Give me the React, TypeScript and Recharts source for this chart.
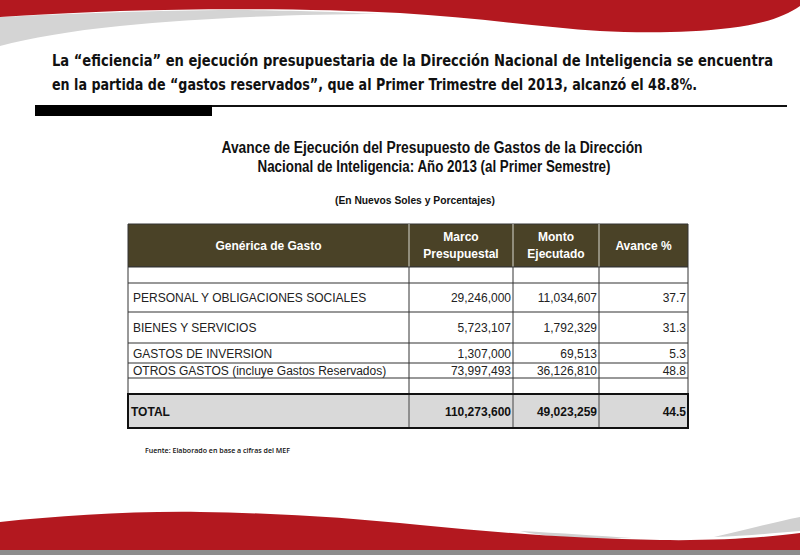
import { Surface, Rectangle, Text } from 'recharts';

const categorias = [
  'PERSONAL Y OBLIGACIONES SOCIALES',
  'BIENES Y SERVICIOS',
  'GASTOS DE INVERSION',
  'OTROS GASTOS (incluye Gastos Reservados)',
];
const marcoPresupuestal = [29246000, 5723107, 1307000, 73997493];
const montoEjecutado = [11034607, 1792329, 69513, 36126810];
const avancePct = [37.7, 31.3, 5.3, 48.8];
const totales = { marco: 110273600, ejecutado: 49023259, avance: 44.5 };

const encabezado = ['Genérica de Gasto', 'Marco|Presupuestal', 'Monto|Ejecutado', 'Avance %'];

// table layout (px)
const colX = [128, 409, 513, 599, 688];
const headTop = 224;
const headBottom = 267;
const rowEdges = [267, 283, 312, 343, 363, 378, 394];
const totalBottom = 428;

const RED = '#b3181f';
const HEAD_BG = '#4a4227';
const fmt = (v: number) => v.toLocaleString('en-US');

function Decoraciones() {
  return (
    <g>
      {/* top swoosh */}
      <path d="M0,17 C60,14 140,11 220,10 C290,10 340,12 380,14 C300,14 200,18 120,26 C70,31 30,38 0,46 Z" fill="#d4d4d4" />
      <path d="M0,0 L800,0 L800,6 C785,16 765,24 730,28 C690,33 640,33 600,31 C540,27 470,17 400,13 C320,9 220,8 120,11 C70,13 30,15 0,17 Z" fill={RED} />
      {/* bottom swoosh */}
      <path d="M520,531 C560,533 600,536 632,538 C590,539 550,538 520,531 Z" fill="#d0d0d0" />
      <path d="M714,537 C745,530 775,522 800,517 L800,531 C775,533 745,536 714,537 Z" fill="#d0d0d0" />
      <path d="M0,522 C60,516 130,511 200,512 C280,513 350,518 420,525 C500,533 580,539 660,540 C720,541 770,537 800,533 L800,550 L0,550 Z" fill={RED} />
      <rect x={0} y={550} width={800} height={5} fill="#8d8d8d" />
    </g>
  );
}

function Tabla() {
  const font = 'Arial, "Liberation Sans", sans-serif';
  return (
    <g fontFamily={font}>
      {/* header */}
      <Rectangle x={colX[0]} y={headTop} width={colX[4] - colX[0]} height={headBottom - headTop} fill={HEAD_BG} stroke="#333" />
      {colX.slice(1, 4).map((x) => (
        <line key={`hv${x}`} x1={x} x2={x} y1={headTop} y2={headBottom} stroke="#d8d8d0" strokeWidth={1} />
      ))}
      {encabezado.map((h, i) => {
        const cx = (colX[i] + colX[i + 1]) / 2;
        const lines = h.split('|');
        return lines.map((ln, j) => (
          <Text
            key={`h${i}${j}`}
            x={cx}
            y={lines.length === 1 ? 246 : 237 + j * 17}
            textAnchor="middle"
            verticalAnchor="middle"
            fontSize={12}
            fontWeight="bold"
            fill="#ffffff"
          >
            {ln}
          </Text>
        ));
      })}

      {/* body */}
      <Rectangle x={colX[0]} y={headBottom} width={colX[4] - colX[0]} height={rowEdges[6] - headBottom} fill="#ffffff" stroke="#333" />
      {rowEdges.slice(1, 6).map((y) => (
        <line key={`r${y}`} x1={colX[0]} x2={colX[4]} y1={y} y2={y} stroke="#333" strokeWidth={1.2} />
      ))}
      {colX.slice(1, 4).map((x) => (
        <line key={`bv${x}`} x1={x} x2={x} y1={headBottom} y2={rowEdges[6]} stroke="#333" strokeWidth={1} />
      ))}
      {categorias.map((c, i) => {
        const cy = (rowEdges[i + 1] + rowEdges[i + 2]) / 2 + 0.5;
        return (
          <g key={c}>
            <Text x={133} y={cy} verticalAnchor="middle" fontSize={12} fill="#222">
              {c}
            </Text>
            <Text x={colX[2] - 2} y={cy} textAnchor="end" verticalAnchor="middle" fontSize={12} fill="#222">
              {fmt(marcoPresupuestal[i])}
            </Text>
            <Text x={colX[3] - 2} y={cy} textAnchor="end" verticalAnchor="middle" fontSize={12} fill="#222">
              {fmt(montoEjecutado[i])}
            </Text>
            <Text x={colX[4] - 2} y={cy} textAnchor="end" verticalAnchor="middle" fontSize={12} fill="#222">
              {avancePct[i].toFixed(1)}
            </Text>
          </g>
        );
      })}

      {/* total */}
      <Rectangle x={colX[0]} y={rowEdges[6]} width={colX[4] - colX[0]} height={totalBottom - rowEdges[6]} fill="#d9d9d9" stroke="#111" strokeWidth={2} />
      {colX.slice(1, 4).map((x) => (
        <line key={`tv${x}`} x1={x} x2={x} y1={rowEdges[6] + 1} y2={totalBottom - 1} stroke="#444" strokeWidth={1} />
      ))}
      {(() => {
        const cy = (rowEdges[6] + totalBottom) / 2 + 0.5;
        return (
          <g>
            <Text x={131} y={cy} verticalAnchor="middle" fontSize={12} fontWeight="bold" fill="#111">
              TOTAL
            </Text>
            <Text x={colX[2] - 2} y={cy} textAnchor="end" verticalAnchor="middle" fontSize={12} fontWeight="bold" fill="#111">
              {fmt(totales.marco)}
            </Text>
            <Text x={colX[3] - 2} y={cy} textAnchor="end" verticalAnchor="middle" fontSize={12} fontWeight="bold" fill="#111">
              {fmt(totales.ejecutado)}
            </Text>
            <Text x={colX[4] - 2} y={cy} textAnchor="end" verticalAnchor="middle" fontSize={12} fontWeight="bold" fill="#111">
              {totales.avance.toFixed(1)}
            </Text>
          </g>
        );
      })()}
    </g>
  );
}

export default function App() {
  const heading = '"Liberation Sans Narrow", "DejaVu Sans", Roboto, sans-serif';
  const arial = 'Arial, "Liberation Sans", sans-serif';
  return (
    <div style={{ position: 'absolute', left: 0, top: 0, width: 800, height: 555, background: '#fff' }}>
      <Surface width={800} height={555}>
        <rect x={0} y={0} width={800} height={555} fill="#ffffff" />
        <Decoraciones />

        {/* condensed headline: small font stretched vertically */}
        <g transform="translate(52,66) scale(1,1.27)">
          <text x={0} y={0} fontFamily={heading} fontWeight="bold" fontSize={13} fill="#111" textLength={721} lengthAdjust="spacingAndGlyphs">
            La “eficiencia” en ejecución presupuestaria de la Dirección Nacional de Inteligencia se encuentra
          </text>
        </g>
        <g transform="translate(52,90) scale(1,1.27)">
          <text x={0} y={0} fontFamily={heading} fontWeight="bold" fontSize={13} fill="#111" textLength={645} lengthAdjust="spacingAndGlyphs">
            en la partida de “gastos reservados”, que al Primer Trimestre del 2013, alcanzó el 48.8%.
          </text>
        </g>
        <line x1={212} x2={787} y1={106} y2={106} stroke="#111" strokeWidth={2} />
        <rect x={35} y={105} width={177} height={11} fill="#000" />

        <text x={432} y={153} textAnchor="middle" fontFamily={arial} fontWeight="bold" fontSize={16} fill="#111" textLength={421} lengthAdjust="spacingAndGlyphs">
          Avance de Ejecución del Presupuesto de  Gastos de la  Dirección
        </text>
        <text x={434} y={172} textAnchor="middle" fontFamily={arial} fontWeight="bold" fontSize={16} fill="#111" textLength={353} lengthAdjust="spacingAndGlyphs">
          Nacional de Inteligencia: Año 2013 (al Primer Semestre)
        </text>
        <text x={415} y={204} textAnchor="middle" fontFamily={arial} fontWeight="bold" fontSize={10} fill="#111" textLength={160} lengthAdjust="spacingAndGlyphs">
          (En Nuevos Soles y Porcentajes)
        </text>

        <Tabla />

        <text x={145} y={453} fontFamily='"Open Sans", "Noto Sans", sans-serif' fontWeight="600" fontSize={7.5} fill="#111" textLength={145} lengthAdjust="spacingAndGlyphs">
          Fuente: Elaborado en base a cifras del MEF
        </text>
      </Surface>
    </div>
  );
}
